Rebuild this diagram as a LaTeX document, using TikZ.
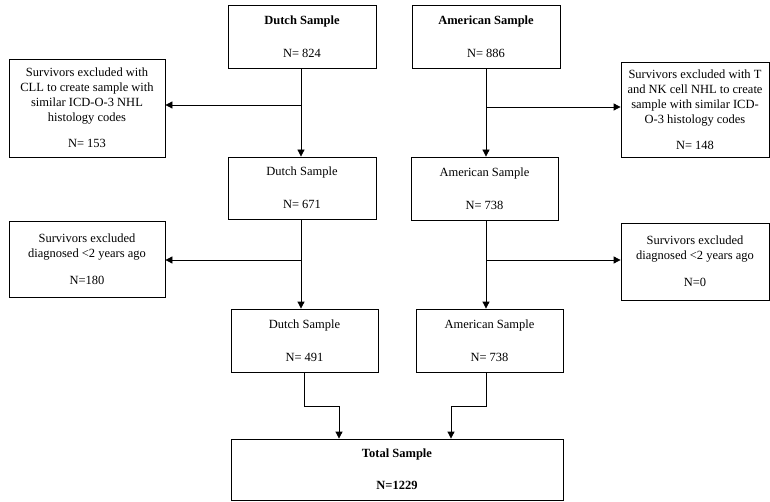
\documentclass[tikz,border=0pt]{standalone}
\usepackage{fontspec}
\setmainfont{Liberation Serif}
\usetikzlibrary{arrows.meta}
\begin{document}
\begin{tikzpicture}[x=1pt,y=1pt,
  box/.style={draw,line width=0.8pt,rectangle,align=center,inner sep=0pt,
    font=\fontsize{12.5}{15}\selectfont},
  conn/.style={line width=0.8pt},
  arr/.style={line width=0.8pt,-{Triangle[length=7pt,width=7pt]}}]
\useasboundingbox (0,0) rectangle (770,-502);
% main column boxes
\node[box,minimum width=148pt,minimum height=63pt] (d1) at (302,-36.5) {\textbf{Dutch Sample}\\[18pt]N= 824};
\node[box,minimum width=148pt,minimum height=63pt] (a1) at (486,-36.5) {\textbf{American Sample}\\[18pt]N= 886};
\node[box,minimum width=148pt,minimum height=62pt] (d2) at (302,-188) {Dutch Sample\\[18pt]N= 671};
\node[box,minimum width=147pt,minimum height=63pt] (a2) at (484.5,-188.5) {American Sample\\[18pt]N= 738};
\node[box,minimum width=147pt,minimum height=63pt] (d3) at (304.5,-340.5) {Dutch Sample\\[18pt]N= 491};
\node[box,minimum width=147pt,minimum height=63pt] (a3) at (489.5,-340.5) {American Sample\\[18pt]N= 738};
\node[box,minimum width=332pt,minimum height=61pt] (tot) at (397,-469.5) {\textbf{Total Sample}\\[17pt]\textbf{N=1229}};
% exclusion boxes
\node[box,minimum width=156pt,minimum height=98pt] (ex1) at (87,-108) {Survivors excluded with\\CLL to create sample with\\similar ICD-O-3 NHL\\histology codes\\[11pt]N= 153};
\node[box,minimum width=148pt,minimum height=95pt] (ex2) at (695,-109.5) {Survivors excluded with T\\and NK cell NHL to create\\sample with similar ICD-\\O-3 histology codes\\[11pt]N= 148};
\node[box,minimum width=156pt,minimum height=76pt] (ex3) at (87,-259) {Survivors excluded\\diagnosed {<}2 years ago\\[12pt]N=180};
\node[box,minimum width=148pt,minimum height=77pt] (ex4) at (695,-261.5) {Survivors excluded\\diagnosed {<}2 years ago\\[12pt]N=0};
% branch points
\coordinate (b1) at (301,-105);
\coordinate (b2) at (486,-107);
\coordinate (b3) at (301,-260);
\coordinate (b4) at (486,-260);
% main flow
\draw[arr] (d1.south -| b1) -- (d2.north -| b1);
\draw[arr] (a1.south -| b2) -- (a2.north -| b2);
\draw[arr] (d2.south -| b3) -- (d3.north -| b3);
\draw[arr] (a2.south -| b4) -- (a3.north -| b4);
% exclusions
\draw[arr] (b1) -- (ex1.east |- b1);
\draw[arr] (b2) -- (ex2.west |- b2);
\draw[arr] (b3) -- (ex3.east |- b3);
\draw[arr] (b4) -- (ex4.west |- b4);
% merge
\coordinate (m1) at (304,-406);
\coordinate (m2) at (339,-406);
\coordinate (m3) at (486,-406);
\coordinate (m4) at (451,-406);
\draw[arr] (d3.south -| m1) -- (m1) -- (m2) -- (tot.north -| m2);
\draw[arr] (a3.south -| m3) -- (m3) -- (m4) -- (tot.north -| m4);
\end{tikzpicture}
\end{document}
